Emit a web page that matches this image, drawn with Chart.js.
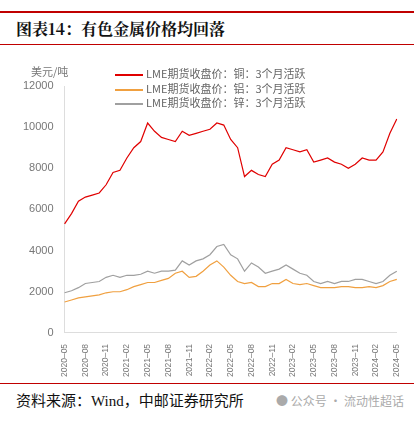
<!DOCTYPE html><html><head><meta charset="utf-8">
<script src="https://cdn.jsdelivr.net/npm/chart.js@4"></script>
<style>
body{margin:0;width:420px;height:421px;background:#fff;position:relative;font-family:"Noto Sans CJK SC",sans-serif;overflow:hidden}
.rl{position:absolute;left:0;width:414px;background:#c00000}
#title{position:absolute;left:16px;top:17px;font-size:16px;font-weight:bold;font-family:"Noto Serif CJK SC","Noto Sans CJK SC",serif;color:#111}
#foot{position:absolute;left:16px;top:389px;font-size:15px;color:#111;font-family:"Liberation Serif","Noto Sans CJK SC",serif}
#wm{position:absolute;left:276px;top:392px;font-size:12px;color:#aaa}
#unit{position:absolute;left:31px;top:63px;font-size:11px;color:#777}
#leg{position:absolute;left:115px;top:66px;font-size:11px;color:#666;line-height:14.5px}
#leg span{display:inline-block;width:28px;height:2px;vertical-align:middle;margin-right:3px}
#wrap{position:absolute;left:0;top:55px;width:410px;height:325px}
</style></head><body>
<div class="rl" style="top:11px;height:2px"></div>
<div id="title">图表14：有色金属价格均回落</div>
<div class="rl" style="top:44px;height:1px"></div>
<div id="wrap"><canvas id="c"></canvas></div>
<div id="unit">美元/吨</div>
<div id="leg"><div><span style="background:#e00000"></span>LME期货收盘价：铜：3个月活跃</div><div><span style="background:#f0a040"></span>LME期货收盘价：铝：3个月活跃</div><div><span style="background:#a0a0a0"></span>LME期货收盘价：锌：3个月活跃</div></div>
<div class="rl" style="top:383px;height:1px"></div>
<div id="foot">资料来源：Wind，中邮证券研究所</div>
<div id="wm">● 公众号 · 流动性超话</div>
<script>
const months=[];
for(let y=2020,m=5;!(y===2024&&m>5);){months.push(y+'-'+String(m).padStart(2,'0'));m++;if(m>12){m=1;y++;}}
const copper=[5300,5800,6400,6600,6700,6800,7200,7800,7900,8500,9000,9300,10200,9800,9500,9400,9300,9800,9600,9700,9800,9900,10200,10100,9400,9000,7600,7900,7700,7600,8200,8400,9000,8900,8800,8900,8300,8400,8500,8300,8200,8000,8200,8500,8400,8400,8800,9700,10400];
const aluminium=[1500,1600,1700,1750,1800,1850,1950,2000,2000,2100,2250,2350,2450,2450,2550,2650,2900,3000,2700,2750,3000,3300,3500,3200,2800,2500,2400,2450,2250,2250,2400,2400,2600,2400,2350,2400,2300,2200,2200,2200,2250,2250,2200,2200,2250,2200,2300,2500,2600];
const zinc=[1950,2050,2200,2400,2450,2500,2700,2800,2700,2800,2800,2850,3000,2900,3000,3000,3050,3500,3300,3500,3600,3800,4200,4300,3800,3600,3000,3400,3200,2900,3000,3100,3300,3100,2900,2800,2500,2400,2500,2400,2500,2500,2600,2600,2500,2400,2500,2800,3000];
const yTicks=[0,2000,4000,6000,8000,10000,12000];
const ds=(d,c)=>({data:d,borderColor:c,borderWidth:1.2,pointRadius:0,tension:0});
new Chart(document.getElementById('c'),{type:'line',
data:{labels:months,datasets:[ds(zinc,'#a0a0a0'),ds(aluminium,'#f0a040'),ds(copper,'#e00000')]},
options:{responsive:true,maintainAspectRatio:false,animation:false,
layout:{padding:{top:31,right:12,left:20}},
plugins:{legend:{display:false},tooltip:{enabled:false}},
scales:{
x:{offset:false,grid:{display:false},border:{color:'#ddd'},ticks:{autoSkip:false,maxRotation:90,minRotation:90,font:{size:8.5},color:'#777',callback:(v,i)=>i%3===0?months[i].replace('-','–'):''}},
y:{min:0,max:12000,afterBuildTicks:a=>{a.ticks=yTicks.map(v=>({value:v}))},grid:{display:false},border:{color:'#ddd'},ticks:{font:{size:11},color:'#777',callback:v=>String(v)}}
}}});
</script></body></html>
